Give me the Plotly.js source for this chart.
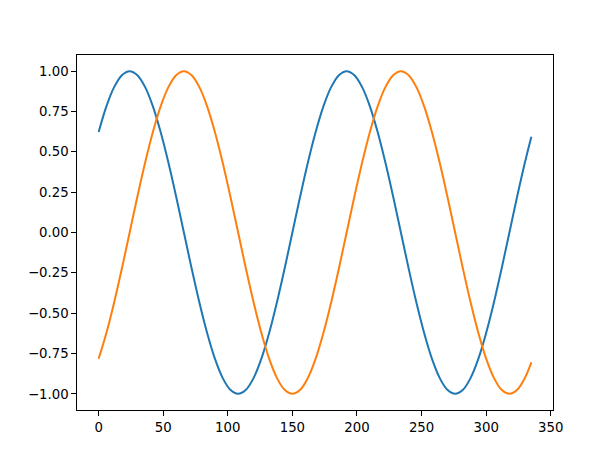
<!DOCTYPE html>
<html>
<head>
<meta charset="utf-8">
<script src="https://cdn.plot.ly/plotly-3.0.1.min.js"></script>
<style>html,body{margin:0;padding:0;background:#fff;}#chart{width:614px;height:461px;}</style>
</head>
<body>
<div id="chart"></div>
<script>
// x positions (every 6 units, plus the last point at 335)
const xValues = [0,6,12,18,24,30,36,42,48,54,60,66,72,78,84,90,96,102,108,114,120,126,132,138,144,150,156,162,168,174,180,186,192,198,204,210,216,222,228,234,240,246,252,258,264,270,276,282,288,294,300,306,312,318,324,330,335];

// blue series
const seriesBlue = [0.623,0.782,0.901,0.975,1,0.975,0.901,0.782,0.623,0.434,0.223,0,-0.223,-0.434,-0.623,-0.782,-0.901,-0.975,-1,-0.975,-0.901,-0.782,-0.623,-0.434,-0.223,0,0.223,0.434,0.623,0.782,0.901,0.975,1,0.975,0.901,0.782,0.623,0.434,0.223,0,-0.223,-0.434,-0.623,-0.782,-0.901,-0.975,-1,-0.975,-0.901,-0.782,-0.623,-0.434,-0.223,0,0.223,0.434,0.594];

// orange series
const seriesOrange = [-0.782,-0.623,-0.434,-0.223,0,0.223,0.434,0.623,0.782,0.901,0.975,1,0.975,0.901,0.782,0.623,0.434,0.223,0,-0.223,-0.434,-0.623,-0.782,-0.901,-0.975,-1,-0.975,-0.901,-0.782,-0.623,-0.434,-0.223,0,0.223,0.434,0.623,0.782,0.901,0.975,1,0.975,0.901,0.782,0.623,0.434,0.223,0,-0.223,-0.434,-0.623,-0.782,-0.901,-0.975,-1,-0.975,-0.901,-0.805];

const xTicks = [0,50,100,150,200,250,300,350];
const yTicks = [-1,-0.75,-0.5,-0.25,0,0.25,0.5,0.75,1];

const traces = [
  {x: xValues, y: seriesBlue, type: 'scatter', mode: 'lines',
   line: {color: '#1f77b4', width: 2, shape: 'spline', smoothing: 1}, hoverinfo: 'skip'},
  {x: xValues, y: seriesOrange, type: 'scatter', mode: 'lines',
   line: {color: '#ff7f0e', width: 2, shape: 'spline', smoothing: 1}, hoverinfo: 'skip'}
];

const axisCommon = {
  showline: true, mirror: true, linecolor: '#000', linewidth: 1,
  showgrid: false, zeroline: false,
  ticks: 'outside', ticklen: 4.7, tickwidth: 1, tickcolor: '#000',
  tickfont: {family: 'DejaVu Sans', size: 13.3, color: '#000'}
};

const layout = {
  width: 614, height: 461,
  margin: {l: 77, r: 61, t: 55, b: 51, pad: 0},
  paper_bgcolor: '#fff', plot_bgcolor: '#fff',
  showlegend: false,
  xaxis: Object.assign({}, axisCommon, {range: [-16.75, 351.75], tickvals: xTicks, ticktext: xTicks.map(String)}),
  yaxis: Object.assign({}, axisCommon, {range: [-1.1, 1.1], tickvals: yTicks, tickformat: '.2f'})
};

Plotly.newPlot('chart', traces, layout, {displayModeBar: false, staticPlot: true});
</script>
</body>
</html>
